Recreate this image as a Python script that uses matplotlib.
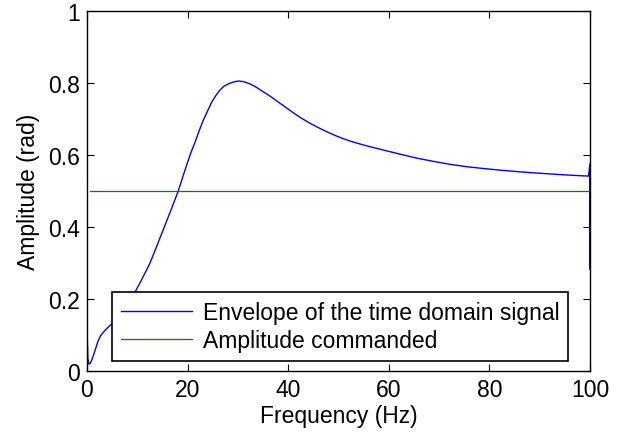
import matplotlib
matplotlib.use('Agg')
import matplotlib.pyplot as plt

plt.rcParams['font.family'] = ['Liberation Sans', 'DejaVu Sans']

# envelope
freq = [0.0, 0.0, 0.06, 0.2, 0.4, 0.65, 0.93, 1.25, 1.6, 1.9, 2.25, 2.7,
        3.25, 3.7, 4.2, 4.9, 6.0, 7.0, 8.0, 9.2, 10.8, 12.5, 13.8, 15.2,
        16.7, 18.15, 19.0, 19.8, 20.6, 21.5, 22.3, 23.1, 24.0, 24.8, 25.6,
        26.4, 27.2, 28.1, 29.1, 30.1, 31.2, 32.4, 33.4, 34.4, 35.4, 36.4,
        37.7, 39.3, 41.0, 42.6, 44.3, 46.0, 47.7, 49.3, 51.0, 52.6, 54.3,
        56.0, 57.6, 60.0, 62.2, 65.5, 68.8, 72.0, 75.5, 78.8, 82.1, 85.4,
        88.7, 92.0, 95.4, 98.0, 99.7, 100.0, 100.0, 100.0]
amp = [0.283, 0.223, 0.10, 0.035, 0.019, 0.021, 0.029, 0.041, 0.056, 0.069,
       0.084, 0.097, 0.107, 0.114, 0.121, 0.130, 0.146, 0.163, 0.183, 0.209,
       0.251, 0.298, 0.343, 0.393, 0.446, 0.499, 0.536, 0.570, 0.603, 0.635,
       0.666, 0.695, 0.722, 0.746, 0.764, 0.779, 0.790, 0.797, 0.802, 0.805,
       0.803, 0.797, 0.790, 0.781, 0.772, 0.763, 0.750, 0.734, 0.717, 0.702,
       0.688, 0.6755, 0.664, 0.654, 0.6445, 0.637, 0.630, 0.6235, 0.618,
       0.6095, 0.602, 0.591, 0.582, 0.574, 0.567, 0.562, 0.5575, 0.5535,
       0.550, 0.547, 0.544, 0.542, 0.541, 0.575, 0.283, 0.541]

cmd_freq = [0.7, 100.0]
cmd_amp = [0.5, 0.5]

fig = plt.figure(figsize=(6.25, 4.35), dpi=100)
ax = fig.add_axes([0.139, 0.145, 0.805, 0.828])

ax.plot(freq, amp, color='#0000ff', lw=1.0, label='Envelope of the time domain signal')
ax.plot(cmd_freq, cmd_amp, color='#008000', lw=0.9, label='Amplitude commanded')

ax.set_xlim(0, 100)
ax.set_ylim(0, 1)
ax.set_xticks([0, 20, 40, 60, 80, 100])
ax.set_yticks([0, 0.2, 0.4, 0.6, 0.8, 1])
ax.set_yticklabels(['0', '0.2', '0.4', '0.6', '0.8', '1'])
ax.tick_params(direction='in', top=True, right=True, labelsize=16.5, length=5,
               width=0.8, pad=5)
for s in ax.spines.values():
    s.set_linewidth(1.0)
ax.set_xlabel('Frequency (Hz)', fontsize=16.5, labelpad=2)
ax.set_ylabel('Amplitude (rad)', fontsize=16.5, labelpad=6)

leg = ax.legend(loc='lower left', bbox_to_anchor=(0.05, 0.028), borderaxespad=0,
                fontsize=16.5, fancybox=False, framealpha=1, edgecolor='black',
                handlelength=3.1, handletextpad=0.45, labelspacing=0.2,
                borderpad=0.4)
leg.get_frame().set_linewidth(1.2)

fig.savefig('out.png', dpi=100)
